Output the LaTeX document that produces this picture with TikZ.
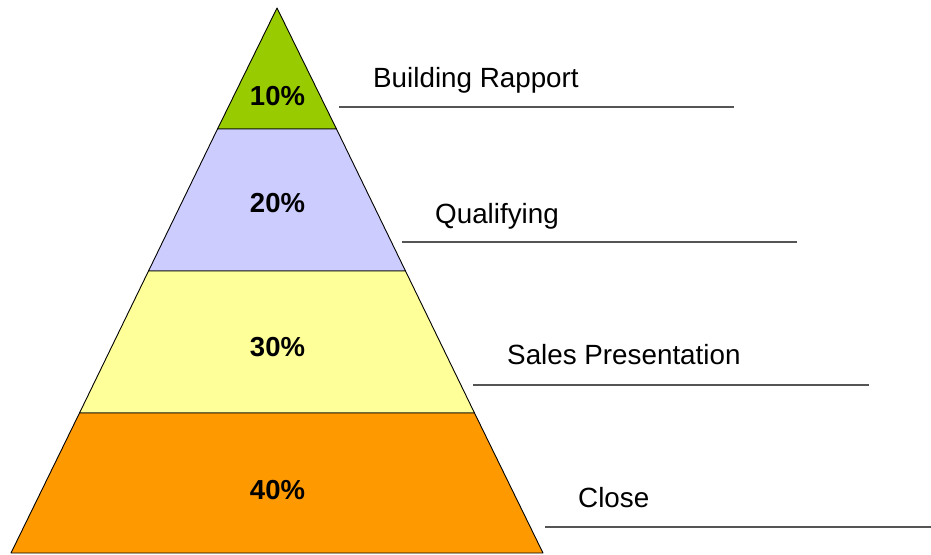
\documentclass[tikz,border=0pt]{standalone}
\usepackage{fontspec}
\setmainfont{Liberation Sans}
\usepackage{xcolor}
\usetikzlibrary{positioning, calc}

\definecolor{topgreen}{HTML}{99CC00}
\definecolor{lavender}{HTML}{CCCCFF}
\definecolor{paleyellow}{HTML}{FFFF99}
\definecolor{deeporange}{HTML}{FF9900}
\definecolor{rulegray}{HTML}{555555}

\begin{document}
\begin{tikzpicture}[x=1pt, y=-1pt,
    layer/.style={draw=black, line width=0.9pt, line join=round},
    pct/.style={font=\fontsize{27.5}{32}\selectfont\bfseries, inner sep=0pt, anchor=base},
    stage/.style={font=\fontsize{27.8}{32}\selectfont, inner sep=0pt, anchor=base west},
    underline/.style={draw=rulegray, line width=1.6pt}]
    \useasboundingbox (0, 0) rectangle (931, 554);

    % pyramid layers
    \filldraw[layer, fill=topgreen] (277, 8) -- (336.5, 129) -- (217.5, 129) -- cycle;
    \filldraw[layer, fill=lavender] (217.5, 129) -- (336.5, 129) -- (405.5, 271) -- (148.5, 271) -- cycle;
    \filldraw[layer, fill=paleyellow] (148.5, 271) -- (405.5, 271) -- (474.5, 413) -- (79.5, 413) -- cycle;
    \filldraw[layer, fill=deeporange] (79.5, 413) -- (474.5, 413) -- (543, 553) -- (11, 553) -- cycle;

    % percentages
    \node[pct] (p10) at (277.5, 105) {10\%};
    \node[pct] (p20) at (277.5, 212) {20\%};
    \node[pct] (p30) at (277.5, 356) {30\%};
    \node[pct] (p40) at (277.5, 499) {40\%};

    % stage names
    \node[stage] (rapport) at (373, 87) {Building Rapport};
    \node[stage] (qualify) at (435, 223) {Qualifying};
    \node[stage] (present) at (507, 364) {Sales Presentation};
    \node[stage] (close) at (578, 507) {Close};

    % underlines
    \coordinate (r1) at (339, 107);  \coordinate (r2) at (734, 107);
    \coordinate (q1) at (402, 242);  \coordinate (q2) at (797, 242);
    \coordinate (s1) at (473, 385);  \coordinate (s2) at (869, 385);
    \coordinate (c1) at (545, 527);  \coordinate (c2) at (931, 527);

    \draw[underline] (r1) -- (r2);
    \draw[underline] (q1) -- (q2);
    \draw[underline] (s1) -- (s2);
    \draw[underline] (c1) -- (c2);

\end{tikzpicture}
\end{document}
